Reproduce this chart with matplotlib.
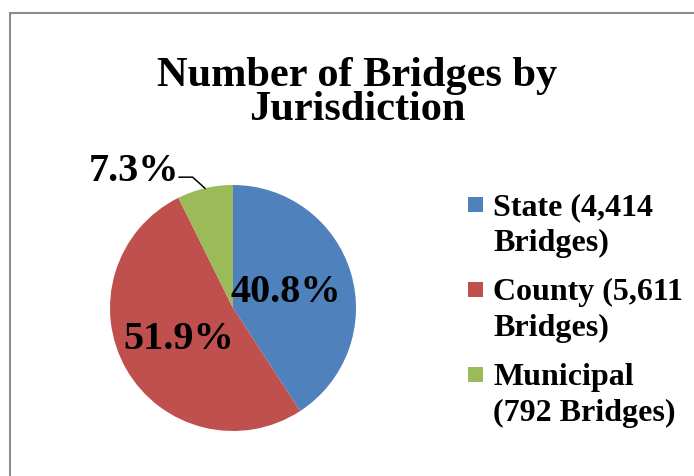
import numpy as np
import matplotlib
matplotlib.use('Agg')
import matplotlib.pyplot as plt
from matplotlib.patches import Rectangle

# data
categories = ['State', 'County', 'Municipal']
bridges = [4414, 5611, 792]
legend_labels = ['State (4,414\nBridges)', 'County (5,611\nBridges)', 'Municipal\n(792 Bridges)']
colors = ['#4F81BD', '#C0504D', '#9BBB59']

W, H = 694, 476
plt.rcParams['font.family'] = ['Liberation Serif', 'DejaVu Serif']
plt.rcParams['font.weight'] = 'bold'

fig = plt.figure(figsize=(W / 100, H / 100), dpi=100)

# chart border (runs off the right and bottom edges)
fig.patches.append(Rectangle((10 / W, -0.1), 1.2, 1 - 13 / H + 0.1, transform=fig.transFigure,
                             fill=False, edgecolor='#8c8c8c', linewidth=1.5))

fig.text(357 / W, 1 - 93 / H, 'Number of Bridges by\nJurisdiction', ha='center', va='center',
         fontsize=30.5, fontweight='bold', linespacing=0.87)

cx, cy, r = 233, 308, 123
ax = fig.add_axes([(cx - r) / W, 1 - (cy + r) / H, 2 * r / W, 2 * r / H])
wedges, _ = ax.pie(bridges, colors=colors, startangle=90, counterclock=False,
                   wedgeprops=dict(linewidth=0))
ax.set_xlim(-1, 1)
ax.set_ylim(-1, 1)
ax.set_aspect('equal')
ax.axis('off')

total = sum(bridges)
pcts = [100 * b / total for b in bridges]
inside_dist = {'State': 0.45, 'County': 0.51}
for w, p, name in zip(wedges, pcts, categories):
    mid = np.deg2rad((w.theta1 + w.theta2) / 2)
    label = f'{p:.1f}%'
    if name == 'Municipal':
        ex, ey = np.cos(mid), np.sin(mid)
        ax.plot([ex, ex - 0.1, ex - 0.21], [ey, ey + 0.09, ey + 0.09], color='black', lw=1.1,
                clip_on=False)
        ax.text(ex - 0.21, ey + 0.14, label, ha='right', va='center', fontsize=29,
                fontweight='bold', clip_on=False)
    else:
        d = inside_dist[name]
        ax.text(d * np.cos(mid), d * np.sin(mid), label, ha='center', va='center', fontsize=29,
                fontweight='bold')

# legend drawn by hand so the swatch sits beside the first line
for i, (lab, c) in enumerate(zip(legend_labels, colors)):
    base = 215 + 85 * i
    fig.patches.append(Rectangle((468 / W, 1 - (base - 3) / H), 15 / W, 15 / H,
                                 transform=fig.transFigure, facecolor=c, edgecolor='none'))
    for j, line in enumerate(lab.split('\n')):
        fig.text(493 / W, 1 - (base + 36 * j) / H, line, ha='left', va='baseline',
                 fontsize=23, fontweight='bold')

fig.savefig('out.png', dpi=100)
